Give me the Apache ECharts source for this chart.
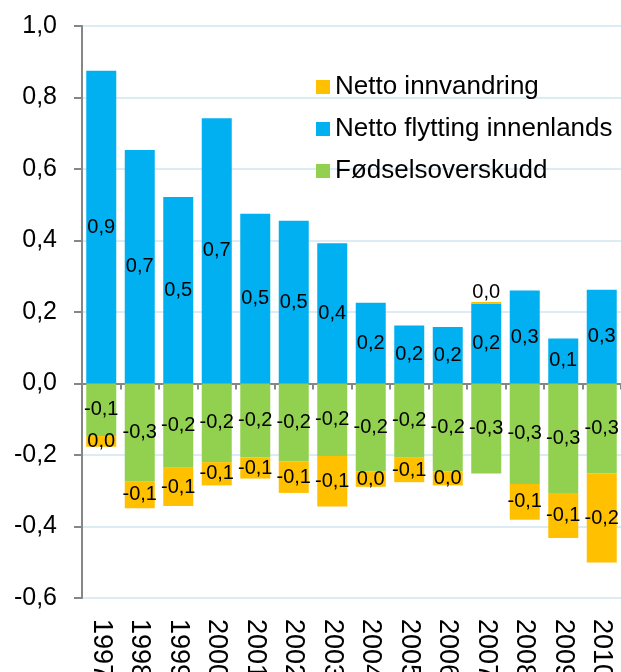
<!DOCTYPE html>
<html>
<head>
<meta charset="utf-8">
<script src="https://cdn.jsdelivr.net/npm/echarts@6/dist/echarts.min.js"></script>
<style>
  html, body { margin: 0; padding: 0; background: #fff; }
  #chart { width: 621px; height: 672px; }
</style>
</head>
<body>
<div id="chart"></div>
<script>
// years on the x axis
const years = ['1997', '1998', '1999', '2000', '2001', '2002', '2003',
  '2004', '2005', '2006', '2007', '2008', '2009', '2010'];

// values
const innenlands = [0.875, 0.653, 0.522, 0.742, 0.475, 0.455, 0.392,
  0.226, 0.162, 0.158, 0.224, 0.26, 0.126, 0.262];
const fodsel = [-0.147, -0.273, -0.236, -0.22, -0.207, -0.218, -0.203,
  -0.246, -0.208, -0.246, -0.252, -0.281, -0.306, -0.252];
const innvandring = [-0.03, -0.076, -0.107, -0.065, -0.059, -0.088, -0.141,
  -0.043, -0.068, -0.039, 0.004, -0.1, -0.126, -0.249];

const yTicks = [-0.6, -0.4, -0.2, 0.0, 0.2, 0.4, 0.6, 0.8, 1.0];

const font = '"Liberation Sans", Arial, sans-serif';

const fmt = (v) => {
  const r = Math.round(v * 10) / 10;
  return r === 0 ? '0,0' : r.toFixed(1).replace('.', ',');
};

const barLabel = {
  show: true,
  position: 'inside',
  color: '#000',
  fontSize: 20,
  fontFamily: font,
  formatter: (p) => fmt(p.value),
};

const chart = echarts.init(document.getElementById('chart'));

const option = {
  animation: false,
  textStyle: { fontFamily: font },
  legend: {
    orient: 'vertical',
    left: 311,
    top: 68,
    itemWidth: 14,
    itemHeight: 14,
    itemGap: 14,
    icon: 'rect',
    data: ['Netto innvandring', 'Netto flytting innenlands', 'Fødselsoverskudd'],
    textStyle: { fontSize: 26, lineHeight: 28, color: '#000', fontFamily: font },
  },
  grid: { left: 82, right: 0, top: 26, bottom: 74, containLabel: false, outerBoundsMode: 'none' },
  xAxis: [
    {
      type: 'category',
      data: years,
      axisLine: { onZero: true, lineStyle: { color: '#868686', width: 2 } },
      axisTick: { show: true, length: 6, lineStyle: { color: '#868686', width: 2 } },
      axisLabel: { show: false },
    },
    {
      type: 'category',
      data: years,
      position: 'bottom',
      axisLine: { show: false, onZero: false },
      axisTick: { show: false },
      axisLabel: {
        rotate: -90,
        margin: 21,
        fontSize: 27,
        color: '#000',
        fontFamily: font,
      },
    },
  ],
  yAxis: {
    type: 'value',
    min: yTicks[0],
    max: yTicks[yTicks.length - 1],
    interval: 0.2,
    axisLine: { show: true, lineStyle: { color: '#868686', width: 2 } },
    axisTick: { show: true, length: 8, lineStyle: { color: '#868686', width: 2 } },
    axisLabel: {
      margin: 25,
      fontSize: 25,
      color: '#000',
      fontFamily: font,
      formatter: (v) => v.toFixed(1).replace('.', ','),
    },
    splitLine: { lineStyle: { color: '#dcecf4', width: 2 } },
  },
  series: [
    {
      name: 'Netto flytting innenlands',
      type: 'bar',
      stack: 'total',
      barWidth: 30,
      data: innenlands,
      itemStyle: { color: '#00b0f0' },
      label: barLabel,
    },
    {
      name: 'Fødselsoverskudd',
      type: 'bar',
      stack: 'total',
      barWidth: 30,
      data: fodsel,
      itemStyle: { color: '#92d050' },
      label: barLabel,
    },
    {
      name: 'Netto innvandring',
      type: 'bar',
      stack: 'total',
      barWidth: 30,
      data: innvandring.map((v) => (v > 0 ? { value: v, label: { position: 'top', distance: 0 } } : v)),
      itemStyle: { color: '#ffc000' },
      label: barLabel,
    },
  ],
};

chart.setOption(option);
</script>
</body>
</html>
